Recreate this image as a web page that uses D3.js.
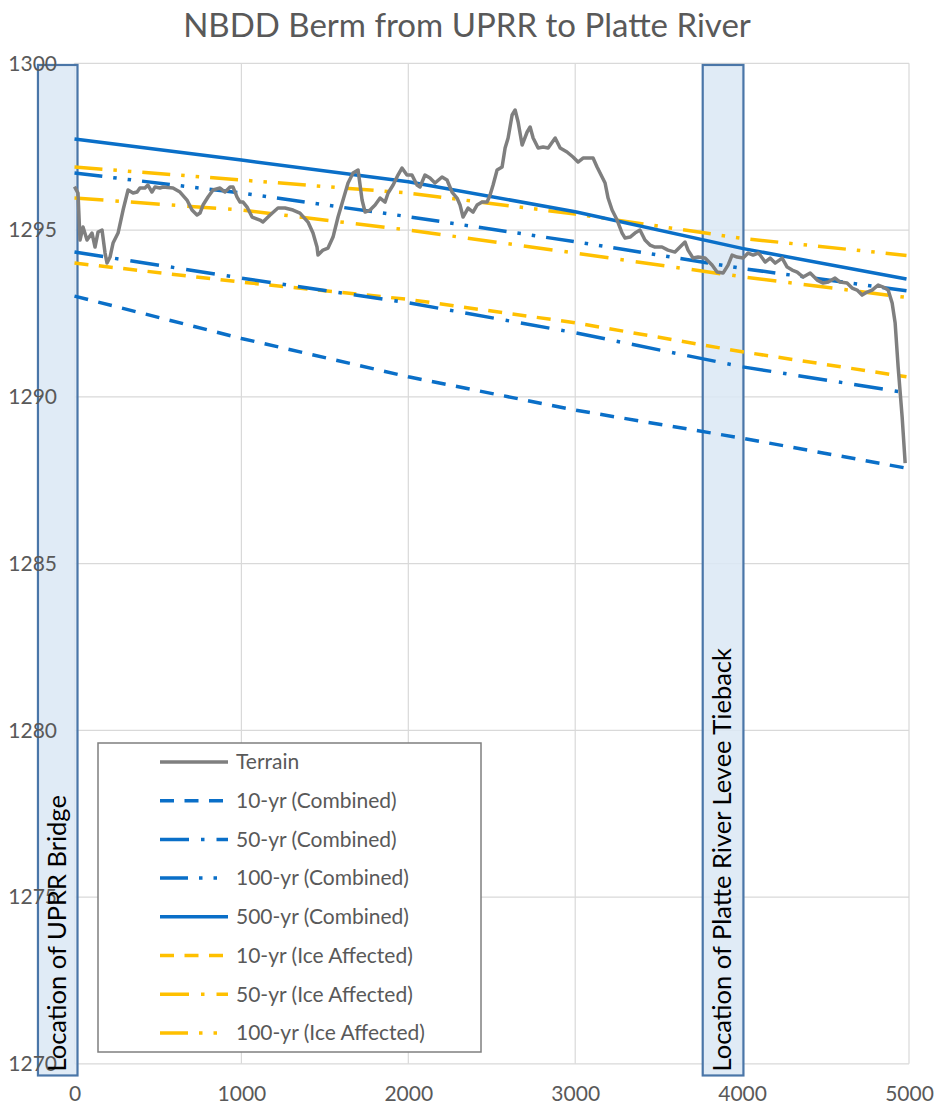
<!DOCTYPE html>
<html>
<head>
<meta charset="utf-8">
<script src="https://cdn.jsdelivr.net/npm/d3@7"></script>
<style>
  html, body { margin: 0; padding: 0; background: #ffffff; }
  svg { display: block; }
</style>
</head>
<body>
<svg id="chart" width="935" height="1114"></svg>
<script>
// ---------- DATA ----------
const titleText = "NBDD Berm from UPRR to Platte River";
const xTicks = [0, 1000, 2000, 3000, 4000, 5000];
const yTicks = [1270, 1275, 1280, 1285, 1290, 1295, 1300];

// Terrain profile (station, elevation)
const terrainX = [0,21,33,51,75,105,123,141,165,183,195,213,231,261,291,321,351,375,392,422,440,464,482,512,530,590,632,674,704,734,752,770,800,830,872,902,932,950,974,992,1010,1034,1064,1111,1129,1172,1219,1261,1309,1351,1399,1429,1453,1459,1489,1519,1549,1579,1609,1639,1669,1699,1723,1741,1771,1801,1831,1861,1879,1909,1938,1962,1992,2022,2052,2070,2100,2130,2160,2202,2232,2262,2292,2310,2328,2358,2388,2412,2442,2472,2490,2508,2532,2562,2580,2598,2622,2640,2658,2682,2712,2730,2748,2778,2808,2838,2880,2910,2951,2987,3017,3047,3077,3107,3131,3161,3179,3197,3221,3251,3281,3299,3329,3358,3388,3418,3448,3478,3520,3556,3598,3628,3658,3676,3706,3736,3778,3820,3850,3886,3916,3940,3970,4006,4036,4066,4096,4108,4138,4168,4198,4240,4270,4300,4330,4366,4408,4450,4486,4516,4557,4587,4629,4659,4689,4719,4749,4779,4815,4845,4875,4899,4917,4935,4959,4977];
const terrainY = [1296.3,1296.11,1294.7,1295.09,1294.7,1294.91,1294.49,1294.94,1295.0,1294.31,1294.01,1294.19,1294.61,1294.91,1295.6,1296.2,1296.11,1296.14,1296.26,1296.26,1296.35,1296.14,1296.29,1296.26,1296.29,1296.26,1296.14,1295.9,1295.6,1295.45,1295.51,1295.75,1295.99,1296.2,1296.26,1296.14,1296.29,1296.29,1295.99,1295.84,1295.84,1295.69,1295.39,1295.3,1295.24,1295.45,1295.66,1295.66,1295.6,1295.51,1295.24,1294.91,1294.49,1294.25,1294.4,1294.46,1294.79,1295.39,1295.9,1296.41,1296.71,1296.8,1295.9,1295.54,1295.6,1295.75,1295.96,1295.84,1296.11,1296.35,1296.65,1296.86,1296.65,1296.65,1296.35,1296.29,1296.65,1296.56,1296.41,1296.59,1296.5,1296.14,1295.96,1295.75,1295.39,1295.66,1295.54,1295.75,1295.84,1295.84,1296.05,1296.35,1296.8,1296.89,1297.46,1297.76,1298.45,1298.6,1298.24,1297.55,1297.94,1298.09,1297.76,1297.46,1297.49,1297.46,1297.76,1297.46,1297.34,1297.19,1297.04,1297.16,1297.16,1297.16,1296.89,1296.59,1296.41,1295.96,1295.6,1295.3,1294.91,1294.76,1294.79,1294.91,1295.0,1294.7,1294.55,1294.49,1294.49,1294.4,1294.34,1294.49,1294.64,1294.4,1294.16,1294.19,1294.16,1293.95,1293.74,1293.71,1293.95,1294.25,1294.19,1294.16,1294.31,1294.25,1294.31,1294.25,1294.04,1294.16,1294.01,1294.16,1293.89,1293.8,1293.74,1293.59,1293.71,1293.5,1293.41,1293.44,1293.56,1293.44,1293.41,1293.26,1293.2,1293.05,1293.14,1293.2,1293.35,1293.29,1293.2,1292.81,1292.21,1290.89,1289.39,1288.01];

// Water surface profiles
const wsX = [0, 1000, 2000, 3000, 4000, 4985];
const ws10Comb  = [1293.02, 1291.75, 1290.60, 1289.60, 1288.76, 1287.86];
const ws50Comb  = [1294.34, 1293.56, 1292.82, 1291.92, 1290.90, 1290.12];
const ws100Comb = [1296.71, 1296.11, 1295.40, 1294.65, 1293.85, 1293.18];
const ws500Comb = [1297.73, 1297.10, 1296.45, 1295.55, 1294.45, 1293.53];
const ws10Ice   = [1294.01, 1293.44, 1292.92, 1292.22, 1291.35, 1290.60];
const ws50Ice   = [1295.96, 1295.60, 1295.00, 1294.31, 1293.60, 1292.98];
const ws100Ice  = [1296.89, 1296.50, 1296.11, 1295.48, 1294.75, 1294.24];

const seriesNames = ["Terrain","10-yr (Combined)","50-yr (Combined)","100-yr (Combined)","500-yr (Combined)","10-yr (Ice Affected)","50-yr (Ice Affected)","100-yr (Ice Affected)"];

// Location markers
const markerLabels = ["Location of UPRR Bridge", "Location of Platte River Levee Tieback"];
const markerX0 = [-219, 3764];
const markerX1 = [18, 4008];
const markerY0 = [1269.65, 1269.65];
const markerY1 = [1299.95, 1299.95];

// ---------- STYLES ----------
const BLUE = "#0a6fc8", GOLD = "#ffc000", GRAY = "#7f7f7f";
const TXT = "#595959";
const FONT = "Lato, 'Open Sans', sans-serif";
const LW = 3.5;
const dashShort = "14,10.5";
const dashDot = "29,12,3.5,12";
const dashDotDot = "28,11,3.5,11,3.5,11";

const series = [
  {name: seriesNames[0], xs: terrainX, ys: terrainY, color: GRAY, dash: null},
  {name: seriesNames[1], xs: wsX, ys: ws10Comb, color: BLUE, dash: dashShort},
  {name: seriesNames[2], xs: wsX, ys: ws50Comb, color: BLUE, dash: dashDot},
  {name: seriesNames[3], xs: wsX, ys: ws100Comb, color: BLUE, dash: dashDotDot},
  {name: seriesNames[4], xs: wsX, ys: ws500Comb, color: BLUE, dash: null},
  {name: seriesNames[5], xs: wsX, ys: ws10Ice, color: GOLD, dash: dashShort},
  {name: seriesNames[6], xs: wsX, ys: ws50Ice, color: GOLD, dash: dashDot},
  {name: seriesNames[7], xs: wsX, ys: ws100Ice, color: GOLD, dash: dashDotDot}
];

// ---------- LAYOUT ----------
const svg = d3.select("#chart");
const x = d3.scaleLinear().domain([0, 5000]).range([74.5, 909]);
const y = d3.scaleLinear().domain([1270, 1300]).range([1063.8, 63.3]);

// Title
svg.append("text")
  .attr("x", 467).attr("y", 37)
  .attr("text-anchor", "middle")
  .attr("font-family", FONT).attr("font-size", 33)
  .attr("fill", TXT)
  .text(titleText);

// Gridlines
const grid = svg.append("g");
grid.selectAll("line.h").data(yTicks).join("line")
  .attr("x1", x(0)).attr("x2", x(5000))
  .attr("y1", d => y(d)).attr("y2", d => y(d))
  .attr("stroke", "#d9d9d9").attr("stroke-width", 1.2);
grid.selectAll("line.v").data(xTicks).join("line")
  .attr("y1", y(1270)).attr("y2", y(1300))
  .attr("x1", d => x(d)).attr("x2", d => x(d))
  .attr("stroke", "#d9d9d9").attr("stroke-width", 1.2);

// Marker rectangles
const markers = markerLabels.map((t, i) => ({t, x0: markerX0[i], x1: markerX1[i], y0: markerY0[i], y1: markerY1[i]}));
svg.append("g").selectAll("rect").data(markers).join("rect")
  .attr("x", d => x(d.x0)).attr("width", d => x(d.x1) - x(d.x0))
  .attr("y", d => y(d.y1)).attr("height", d => y(d.y0) - y(d.y1))
  .attr("fill", "#dbe8f5").attr("fill-opacity", 0.85)
  .attr("stroke", "#4a76a8").attr("stroke-width", 2.2);

// Axes (labels drawn over the marker fill)
const xAxis = d3.axisBottom(x).tickValues(xTicks).tickSize(0).tickPadding(22).tickFormat(d3.format("d"));
const gx = svg.append("g").attr("transform", `translate(0,${y(1270)})`).call(xAxis);
gx.select(".domain").remove();
gx.selectAll("text").attr("font-family", FONT).attr("font-size", 21).attr("fill", TXT);

const yAxis = d3.axisLeft(y).tickValues(yTicks).tickSize(0).tickPadding(0).tickFormat(d3.format("d"));
const gy = svg.append("g").attr("transform", `translate(57,0)`).call(yAxis);
gy.select(".domain").remove();
gy.selectAll("text").attr("font-family", FONT).attr("font-size", 21).attr("fill", TXT);

// Series lines
const line = d3.line();
const gl = svg.append("g");
series.slice().reverse().forEach(s => {
  const pts = s.xs.map((v, i) => [x(v), y(s.ys[i])]);
  gl.append("path")
    .attr("d", line(pts))
    .attr("fill", "none")
    .attr("stroke", s.color)
    .attr("stroke-width", LW)
    .attr("stroke-linejoin", "round")
    .attr("stroke-dasharray", s.dash);
});

// Marker labels (rotated)
svg.append("g").selectAll("text").data(markers).join("text")
  .attr("transform", d => `translate(${(x(d.x0) + x(d.x1)) / 2 + 8},${y(d.y0) - 4}) rotate(-90)`)
  .attr("text-anchor", "start")
  .attr("font-family", FONT).attr("font-size", 25.5)
  .attr("fill", "#000000")
  .text(d => d.t);

// Legend
const lg = svg.append("g");
lg.append("rect")
  .attr("x", 98).attr("y", 743).attr("width", 383).attr("height", 309)
  .attr("fill", "#ffffff").attr("stroke", "#7f7f7f").attr("stroke-width", 1.5);
series.forEach((s, i) => {
  const yy = 762 + i * 38.7;
  lg.append("line")
    .attr("x1", 160).attr("x2", 228).attr("y1", yy).attr("y2", yy)
    .attr("stroke", s.color).attr("stroke-width", LW)
    .attr("stroke-dasharray", s.dash);
  lg.append("text")
    .attr("x", 236).attr("y", yy).attr("dy", "0.35em")
    .attr("font-family", FONT).attr("font-size", 21)
    .attr("fill", TXT)
    .text(s.name);
});
</script>
</body>
</html>
